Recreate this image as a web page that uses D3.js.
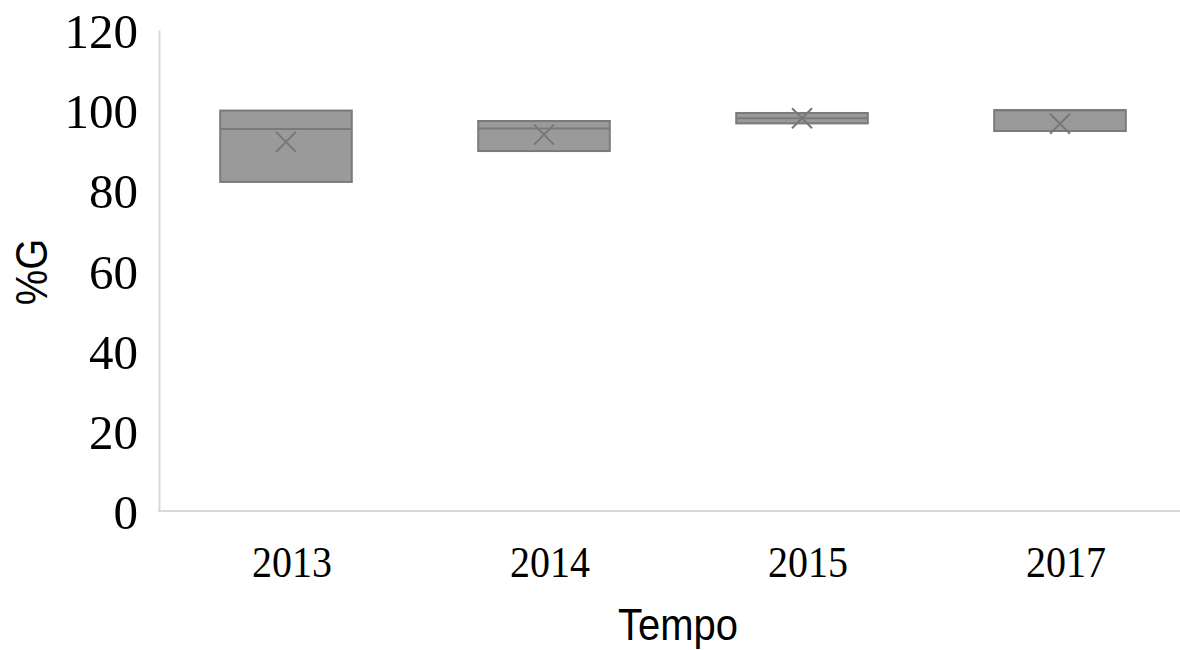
<!DOCTYPE html>
<html>
<head>
<meta charset="utf-8">
<script src="https://cdn.jsdelivr.net/npm/d3@7"></script>
<style>
    body { margin: 0; background: #fff; }
    svg { display: block; }
</style>
</head>
<body>
<div id="chart"></div>
<script>
// values
var categories = ["2013", "2014", "2015", "2017"];
var q1_values     = [82.1, 89.8, 96.7, 94.8];
var median_values = [95.3, 95.4, 98.0, 100.0];
var q3_values     = [99.9, 97.3, 99.3, 100.0];
var mean_values   = [92.1, 93.9, 98.0, 96.6];
var y_ticks = [0, 20, 40, 60, 80, 100, 120];

var width = 1180, height = 650;

var svg = d3.select("#chart").append("svg")
    .attr("width", width)
    .attr("height", height);

//Scales
var x_scale = d3.scaleBand()
    .domain(categories)
    .range([157, 1189])
    .padding(0);

var y_scale = d3.scaleLinear()
    .domain([0, 120])
    .range([511, 30]);

var stretch = 1.12; // text in the picture is slightly stretched vertically

//Axis lines
var y_axis = d3.axisLeft(y_scale).tickValues(y_ticks).tickSize(0).tickPadding(21);
var gy = svg.append("g")
    .attr("transform", "translate(159,0)")
    .call(y_axis);
gy.select(".domain").attr("stroke", "#d9d9d9").attr("stroke-width", 2);
gy.selectAll(".tick text")
    .attr("font-family", "'Liberation Serif', 'Times New Roman', serif")
    .attr("font-size", 49)
    .attr("fill", "#000")
    .attr("dy", "0.36em");

svg.append("line")
    .attr("x1", 158).attr("x2", width)
    .attr("y1", y_scale(0)).attr("y2", y_scale(0))
    .attr("stroke", "#d9d9d9")
    .attr("stroke-width", 2);

//x labels
svg.selectAll(".xlab")
    .data(categories)
    .enter().append("text")
    .attr("class", "xlab")
    .attr("text-anchor", "middle")
    .attr("font-family", "'Liberation Serif', 'Times New Roman', serif")
    .attr("font-size", 40)
    .attr("fill", "#000")
    .attr("transform", function (d) {
        return "translate(" + (x_scale(d) + x_scale.bandwidth() / 2 + 6) + ",577) scale(1," + stretch + ")";
    })
    .text(function (d) { return d; });

//axis titles
svg.append("text")
    .attr("text-anchor", "middle")
    .attr("font-family", "'Liberation Sans', Arial, sans-serif")
    .attr("font-size", 40)
    .attr("fill", "#000")
    .attr("transform", "translate(678,640) scale(1," + stretch + ")")
    .text("Tempo");

svg.append("text")
    .attr("text-anchor", "middle")
    .attr("font-family", "'Liberation Sans', Arial, sans-serif")
    .attr("font-size", 40)
    .attr("fill", "#000")
    .attr("transform", "translate(47,272) rotate(-90) scale(1," + stretch + ")")
    .text("%G");

//Boxes
var box_w = x_scale.bandwidth() * 0.51;
var boxes = svg.selectAll(".box")
    .data(categories)
    .enter().append("g")
    .attr("class", "box");

boxes.append("rect")
    .attr("x", function (d) { return x_scale(d) + x_scale.bandwidth() / 2 - box_w / 2; })
    .attr("y", function (d, i) { return y_scale(q3_values[i]); })
    .attr("width", box_w)
    .attr("height", function (d, i) { return y_scale(q1_values[i]) - y_scale(q3_values[i]); })
    .attr("fill", "#9a9a9a")
    .attr("stroke", "#7a7a7a")
    .attr("stroke-width", 2);

boxes.append("line")
    .attr("x1", function (d) { return x_scale(d) + x_scale.bandwidth() / 2 - box_w / 2; })
    .attr("x2", function (d) { return x_scale(d) + x_scale.bandwidth() / 2 + box_w / 2; })
    .attr("y1", function (d, i) { return y_scale(median_values[i]); })
    .attr("y2", function (d, i) { return y_scale(median_values[i]); })
    .attr("stroke", "#7a7a7a")
    .attr("stroke-width", 2);

//mean markers (X)
var m = 10;
boxes.append("path")
    .attr("d", function (d, i) {
        var cx = x_scale(d) + x_scale.bandwidth() / 2;
        var cy = y_scale(mean_values[i]);
        return "M" + (cx - m) + "," + (cy - m) + "L" + (cx + m) + "," + (cy + m) +
               "M" + (cx - m) + "," + (cy + m) + "L" + (cx + m) + "," + (cy - m);
    })
    .attr("fill", "none")
    .attr("stroke", "#777")
    .attr("stroke-width", 2);
</script>
</body>
</html>
